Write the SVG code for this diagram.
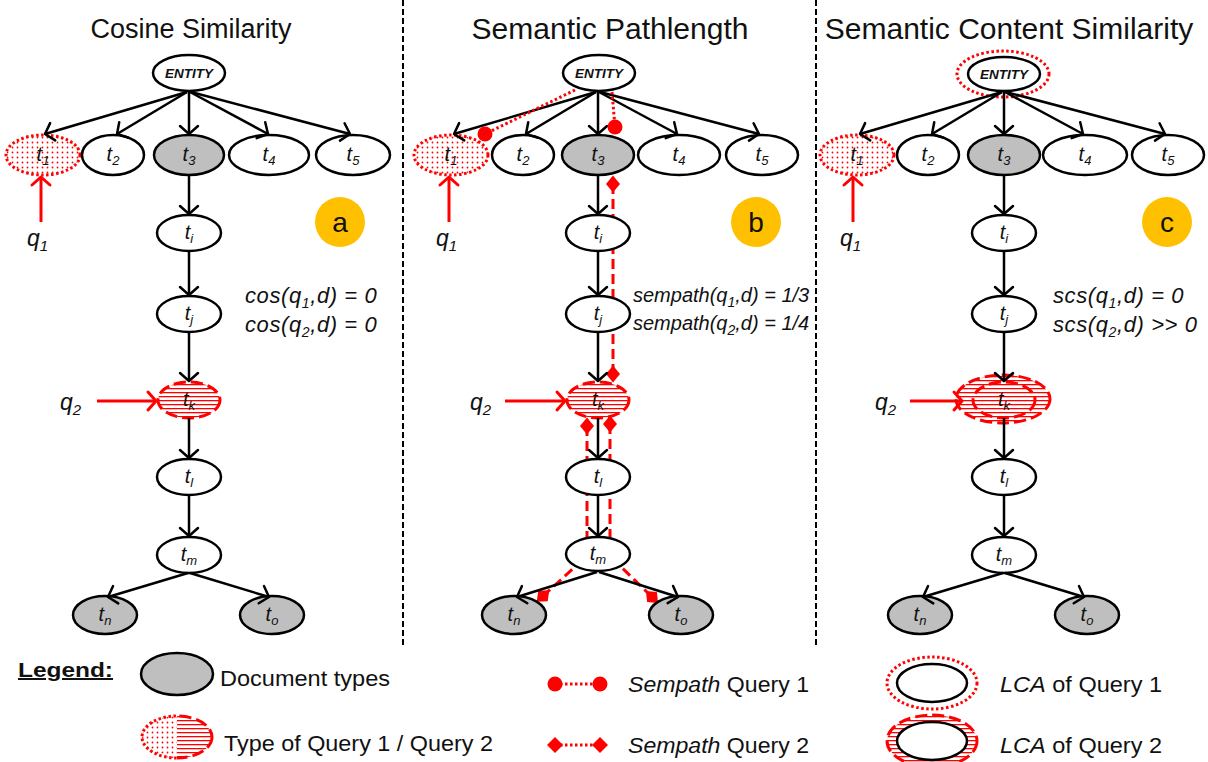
<svg xmlns="http://www.w3.org/2000/svg" width="1208" height="762" viewBox="0 0 1208 762">
<style>
text{font-family:"Liberation Sans",Arial,sans-serif;fill:#111}
.title{font-size:30px;text-anchor:middle}
.node{fill:#fff;stroke:#000;stroke-width:2.5}
.doc{fill:#bfbfbf;stroke:#000;stroke-width:2.5}
.q1t{fill:url(#dots);stroke:#f00;stroke-width:3;stroke-dasharray:2.5 2.5}
.q2t{fill:url(#stripes);stroke:#f00;stroke-width:3;stroke-dasharray:12 5}
.lca1{fill:#fff;stroke:#f00;stroke-width:3;stroke-dasharray:2.5 2.5}
.ring2{fill:none;stroke:#f00;stroke-width:3;stroke-dasharray:12 5}
.lbl{font-size:20px;font-style:italic;text-anchor:middle}
.ent{font-size:13.5px;font-style:italic;font-weight:bold;text-anchor:middle}
.edge{fill:none;stroke:#000;stroke-width:2.5;marker-end:url(#ah)}
.qarrow{fill:none;stroke:#f00;stroke-width:3;marker-end:url(#rah)}
.badge{fill:#ffc000}
.badgeT{font-size:28px;text-anchor:middle}
.f{font-size:22px;font-style:italic;letter-spacing:0.6px}
.fs{font-size:20px;font-style:italic}
.q{font-size:23px;font-style:italic}
.sp1{fill:none;stroke:#f00;stroke-width:3;stroke-dasharray:2.5 2.5;marker-end:url(#circ)}
.sp1b{fill:none;stroke:#f00;stroke-width:3;stroke-dasharray:2.5 2.5;marker-start:url(#circ);marker-end:url(#circ)}
.sp2{fill:none;stroke:#f00;stroke-width:3;stroke-dasharray:10 5;marker-start:url(#dia);marker-end:url(#dia)}
.sp2b{fill:none;stroke:#f00;stroke-width:3;stroke-dasharray:2.5 2.5;marker-start:url(#diaL);marker-end:url(#diaL)}
.sep{stroke:#000;stroke-width:2;stroke-dasharray:6 3}
.leg{font-size:22px}
</style>
<defs>
<pattern id="dots" width="5" height="5" patternUnits="userSpaceOnUse">
<rect width="5" height="5" fill="#fff"/><circle cx="2.5" cy="2.5" r="0.9" fill="#f00"/>
</pattern>
<pattern id="stripes" width="8" height="4" patternUnits="userSpaceOnUse">
<rect width="8" height="4" fill="#fff"/><rect width="8" height="1.3" fill="#f00"/>
</pattern>
<marker id="ah" viewBox="-1 -11 12 22" refX="8" refY="0" markerWidth="12" markerHeight="22" markerUnits="userSpaceOnUse" orient="auto" overflow="visible">
<path d="M0,-9 L8,0 L0,9" fill="none" stroke="#000" stroke-width="2.5" stroke-linecap="round" stroke-linejoin="round"/>
</marker>
<marker id="rah" viewBox="-1 -11 12 22" refX="8" refY="0" markerWidth="12" markerHeight="22" markerUnits="userSpaceOnUse" orient="auto" overflow="visible">
<path d="M0,-9 L8,0 L0,9" fill="none" stroke="#f00" stroke-width="3" stroke-linecap="round" stroke-linejoin="round"/>
</marker>
<marker id="circ" viewBox="-8 -8 16 16" refX="0" refY="0" markerWidth="16" markerHeight="16" markerUnits="userSpaceOnUse" overflow="visible">
<circle r="7.5" fill="#f00"/>
</marker>
<marker id="dia" viewBox="-9 -9 18 18" refX="0" refY="0" markerWidth="18" markerHeight="18" markerUnits="userSpaceOnUse" orient="auto" overflow="visible">
<path d="M-8.5,0 L0,-7 L8.5,0 L0,7 Z" fill="#f00"/>
</marker>
<marker id="diaL" viewBox="-9 -9 18 18" refX="0" refY="0" markerWidth="18" markerHeight="18" markerUnits="userSpaceOnUse" orient="auto" overflow="visible">
<path d="M-8,0 L0,-8 L8,0 L0,8 Z" fill="#f00"/>
</marker>
<clipPath id="cl"><rect x="130" y="705" width="47" height="60"/></clipPath>
<clipPath id="cr"><rect x="177" y="705" width="50" height="60"/></clipPath>
</defs>

<rect width="1208" height="762" fill="#fff"/>

<!-- separators and titles -->
<line class="sep" x1="403" y1="0" x2="403" y2="645"/>
<line class="sep" x1="816" y1="0" x2="816" y2="645"/>
<text class="title" x="191" y="38" style="font-size:27px">Cosine Similarity</text>
<text class="title" x="610" y="39">Semantic Pathlength</text>
<text class="title" x="1009" y="39">Semantic Content Similarity</text>

<!-- Panel B sempath query 2 paths (behind nodes) -->
<g id="sempath-q2">
<path class="sp2" d="M613,184 L613,374"/>
<path class="sp2" d="M587,426 L587,556 L543,596"/>
<path class="sp2" d="M610,424 L610,556 L652,597"/>
</g>

<!-- ================= Panel A ================= -->
<g id="a-ENTITY"><ellipse class="node" cx="189" cy="73" rx="36" ry="18"/><text class="ent" x="189" y="78">ENTITY</text></g>
<g id="a-t1"><ellipse class="q1t" cx="43" cy="155" rx="37" ry="20"/><text class="lbl" x="43" y="161">t<tspan font-size="13" dy="4">1</tspan></text></g>
<g id="a-t2"><ellipse class="node" cx="113" cy="155" rx="31" ry="20"/><text class="lbl" x="113" y="161">t<tspan font-size="13" dy="4">2</tspan></text></g>
<g id="a-t3"><ellipse class="doc" cx="189" cy="155" rx="35" ry="20"/><text class="lbl" x="189" y="161">t<tspan font-size="13" dy="4">3</tspan></text></g>
<g id="a-t4"><ellipse class="node" cx="269" cy="155" rx="40" ry="20"/><text class="lbl" x="269" y="161">t<tspan font-size="13" dy="4">4</tspan></text></g>
<g id="a-t5"><ellipse class="node" cx="353" cy="155" rx="37" ry="20"/><text class="lbl" x="353" y="161">t<tspan font-size="13" dy="4">5</tspan></text></g>
<g id="a-ti"><ellipse class="node" cx="189" cy="233" rx="32" ry="18"/><text class="lbl" x="189" y="239">t<tspan font-size="13" dy="4">i</tspan></text></g>
<g id="a-tj"><ellipse class="node" cx="189" cy="314" rx="32" ry="18"/><text class="lbl" x="189" y="320">t<tspan font-size="13" dy="4">j</tspan></text></g>
<g id="a-tk"><ellipse class="q2t" cx="189" cy="400" rx="31" ry="18"/><text class="lbl" x="189" y="406">t<tspan font-size="13" dy="4">k</tspan></text></g>
<g id="a-tl"><ellipse class="node" cx="189" cy="477" rx="32" ry="18"/><text class="lbl" x="189" y="483">t<tspan font-size="13" dy="4">l</tspan></text></g>
<g id="a-tm"><ellipse class="node" cx="189" cy="555" rx="32" ry="18"/><text class="lbl" x="189" y="561">t<tspan font-size="13" dy="4">m</tspan></text></g>
<g id="a-tn"><ellipse class="doc" cx="105" cy="615" rx="32" ry="19"/><text class="lbl" x="105" y="621">t<tspan font-size="13" dy="4">n</tspan></text></g>
<g id="a-to"><ellipse class="doc" cx="272" cy="615" rx="32" ry="19"/><text class="lbl" x="272" y="621">t<tspan font-size="13" dy="4">o</tspan></text></g>

<!-- ================= Panel B ================= -->
<g id="b-ENTITY"><ellipse class="node" cx="599" cy="73" rx="36" ry="18"/><text class="ent" x="599" y="78">ENTITY</text></g>
<g id="b-t1"><ellipse class="q1t" cx="451" cy="155" rx="37" ry="20"/><text class="lbl" x="451" y="161">t<tspan font-size="13" dy="4">1</tspan></text></g>
<g id="b-t2"><ellipse class="node" cx="523" cy="155" rx="31" ry="20"/><text class="lbl" x="523" y="161">t<tspan font-size="13" dy="4">2</tspan></text></g>
<g id="b-t3"><ellipse class="doc" cx="598" cy="155" rx="36" ry="20"/><text class="lbl" x="598" y="161">t<tspan font-size="13" dy="4">3</tspan></text></g>
<g id="b-t4"><ellipse class="node" cx="679" cy="155" rx="41" ry="20"/><text class="lbl" x="679" y="161">t<tspan font-size="13" dy="4">4</tspan></text></g>
<g id="b-t5"><ellipse class="node" cx="762" cy="155" rx="36" ry="20"/><text class="lbl" x="762" y="161">t<tspan font-size="13" dy="4">5</tspan></text></g>
<g id="b-ti"><ellipse class="node" cx="598" cy="233" rx="32" ry="18"/><text class="lbl" x="598" y="239">t<tspan font-size="13" dy="4">i</tspan></text></g>
<g id="b-tj"><ellipse class="node" cx="598" cy="314" rx="32" ry="18"/><text class="lbl" x="598" y="320">t<tspan font-size="13" dy="4">j</tspan></text></g>
<g id="b-tk"><ellipse class="q2t" cx="598" cy="400" rx="31" ry="18"/><text class="lbl" x="598" y="406">t<tspan font-size="13" dy="4">k</tspan></text></g>
<g id="b-tl"><ellipse class="node" cx="598" cy="477" rx="32" ry="18"/><text class="lbl" x="598" y="483">t<tspan font-size="13" dy="4">l</tspan></text></g>
<g id="b-tm"><ellipse class="node" cx="598" cy="554" rx="32" ry="17"/><text class="lbl" x="598" y="560">t<tspan font-size="13" dy="4">m</tspan></text></g>
<g id="b-tn"><ellipse class="doc" cx="514" cy="615" rx="32" ry="19"/><text class="lbl" x="514" y="621">t<tspan font-size="13" dy="4">n</tspan></text></g>
<g id="b-to"><ellipse class="doc" cx="681" cy="615" rx="32" ry="19"/><text class="lbl" x="681" y="621">t<tspan font-size="13" dy="4">o</tspan></text></g>

<!-- ================= Panel C ================= -->
<g id="c-ENTITY"><ellipse class="lca1" cx="1003" cy="74" rx="46" ry="23"/><ellipse class="node" cx="1004" cy="74" rx="36" ry="17"/><text class="ent" x="1004" y="79">ENTITY</text></g>
<g id="c-t1"><ellipse class="q1t" cx="857" cy="155" rx="37" ry="20"/><text class="lbl" x="857" y="161">t<tspan font-size="13" dy="4">1</tspan></text></g>
<g id="c-t2"><ellipse class="node" cx="928" cy="155" rx="31" ry="20"/><text class="lbl" x="928" y="161">t<tspan font-size="13" dy="4">2</tspan></text></g>
<g id="c-t3"><ellipse class="doc" cx="1004" cy="155" rx="36" ry="20"/><text class="lbl" x="1004" y="161">t<tspan font-size="13" dy="4">3</tspan></text></g>
<g id="c-t4"><ellipse class="node" cx="1085" cy="155" rx="42" ry="20"/><text class="lbl" x="1085" y="161">t<tspan font-size="13" dy="4">4</tspan></text></g>
<g id="c-t5"><ellipse class="node" cx="1168" cy="155" rx="36" ry="20"/><text class="lbl" x="1168" y="161">t<tspan font-size="13" dy="4">5</tspan></text></g>
<g id="c-ti"><ellipse class="node" cx="1004" cy="233" rx="32" ry="18"/><text class="lbl" x="1004" y="239">t<tspan font-size="13" dy="4">i</tspan></text></g>
<g id="c-tj"><ellipse class="node" cx="1004" cy="314" rx="32" ry="18"/><text class="lbl" x="1004" y="320">t<tspan font-size="13" dy="4">j</tspan></text></g>
<g id="c-tk"><ellipse class="q2t" cx="1003" cy="399" rx="47" ry="24"/><ellipse class="ring2" cx="1004" cy="400" rx="31" ry="18"/><text class="lbl" x="1004" y="406">t<tspan font-size="13" dy="4">k</tspan></text></g>
<g id="c-tl"><ellipse class="node" cx="1004" cy="477" rx="32" ry="18"/><text class="lbl" x="1004" y="483">t<tspan font-size="13" dy="4">l</tspan></text></g>
<g id="c-tm"><ellipse class="node" cx="1004" cy="555" rx="32" ry="18"/><text class="lbl" x="1004" y="561">t<tspan font-size="13" dy="4">m</tspan></text></g>
<g id="c-tn"><ellipse class="doc" cx="920" cy="615" rx="32" ry="19"/><text class="lbl" x="920" y="621">t<tspan font-size="13" dy="4">n</tspan></text></g>
<g id="c-to"><ellipse class="doc" cx="1087" cy="615" rx="32" ry="19"/><text class="lbl" x="1087" y="621">t<tspan font-size="13" dy="4">o</tspan></text></g>

<!-- connectors -->
<g id="connectors">
<path class="edge" d="M187,92 L45,134"/>
<path class="edge" d="M187,92 L117,134"/>
<path class="edge" d="M189,91 L189,134"/>
<path class="edge" d="M190,92 L268,134"/>
<path class="edge" d="M191,92 L350,134"/>
<path class="edge" d="M189,175 L189,214"/>
<path class="edge" d="M189,251 L189,295"/>
<path class="edge" d="M189,332 L189,381"/>
<path class="edge" d="M189,418 L189,458"/>
<path class="edge" d="M189,495 L189,536"/>
<path class="edge" d="M188,573 L108,597"/>
<path class="edge" d="M190,573 L269,597"/>

<path class="edge" d="M596,92 L454,134"/>
<path class="edge" d="M596,92 L526,134"/>
<path class="edge" d="M598,91 L598,134"/>
<path class="edge" d="M599,92 L677,134"/>
<path class="edge" d="M600,92 L759,134"/>
<path class="edge" d="M598,175 L598,214"/>
<path class="edge" d="M598,251 L598,295"/>
<path class="edge" d="M598,332 L598,381"/>
<path class="edge" d="M598,418 L598,458"/>
<path class="edge" d="M598,495 L598,536"/>
<path class="edge" d="M597,572 L517,597"/>
<path class="edge" d="M599,572 L678,597"/>

<path class="edge" d="M1002,92 L860,134"/>
<path class="edge" d="M1002,92 L932,134"/>
<path class="edge" d="M1004,91 L1004,134"/>
<path class="edge" d="M1005,92 L1083,134"/>
<path class="edge" d="M1006,92 L1165,134"/>
<path class="edge" d="M1004,175 L1004,214"/>
<path class="edge" d="M1004,251 L1004,295"/>
<path class="edge" d="M1004,332 L1004,381"/>
<path class="edge" d="M1004,418 L1004,458"/>
<path class="edge" d="M1004,495 L1004,536"/>
<path class="edge" d="M1003,573 L923,597"/>
<path class="edge" d="M1005,573 L1084,597"/>

<!-- query arrows -->
<path class="qarrow" d="M41,222 L41,177"/>
<path class="qarrow" d="M97,401 L156,401"/>
<path class="qarrow" d="M449,222 L449,177"/>
<path class="qarrow" d="M505,401 L565,401"/>
<path class="qarrow" d="M853,222 L853,177"/>
<path class="qarrow" d="M910,401 L962,401"/>

<!-- sempath query 1 -->
<path class="sp1" d="M575,90 L485,134"/>
<path class="sp1" d="M612,92 L615,127"/>
</g>

<!-- query labels -->
<text class="q" x="27" y="246">q<tspan font-size="15" dy="5">1</tspan></text>
<text class="q" x="60" y="410">q<tspan font-size="15" dy="5">2</tspan></text>
<text class="q" x="436" y="246">q<tspan font-size="15" dy="5">1</tspan></text>
<text class="q" x="470" y="410">q<tspan font-size="15" dy="5">2</tspan></text>
<text class="q" x="840" y="246">q<tspan font-size="15" dy="5">1</tspan></text>
<text class="q" x="875" y="410">q<tspan font-size="15" dy="5">2</tspan></text>

<!-- badges -->
<g id="badge-a"><circle class="badge" cx="340" cy="222" r="25"/><text class="badgeT" x="340" y="232">a</text></g>
<g id="badge-b"><circle class="badge" cx="756" cy="222" r="25"/><text class="badgeT" x="756" y="232">b</text></g>
<g id="badge-c"><circle class="badge" cx="1167" cy="222" r="25"/><text class="badgeT" x="1167" y="232">c</text></g>

<!-- formulas -->
<text class="f" x="245" y="303">cos(q<tspan font-size="14" dy="5">1</tspan><tspan dy="-5">,d) = 0</tspan></text>
<text class="f" x="245" y="332">cos(q<tspan font-size="14" dy="5">2</tspan><tspan dy="-5">,d) = 0</tspan></text>
<text class="fs" x="633" y="302">sempath(q<tspan font-size="14" dy="5">1</tspan><tspan dy="-5">,d) = 1/3</tspan></text>
<text class="fs" x="633" y="330">sempath(q<tspan font-size="14" dy="5">2</tspan><tspan dy="-5">,d) = 1/4</tspan></text>
<text class="f" x="1053" y="303">scs(q<tspan font-size="14" dy="5">1</tspan><tspan dy="-5">,d) = 0</tspan></text>
<text class="f" x="1053" y="332">scs(q<tspan font-size="14" dy="5">2</tspan><tspan dy="-5">,d) &gt;&gt; 0</tspan></text>

<!-- legend -->
<g id="legend">
<text x="18" y="677" font-size="20" font-weight="bold" text-decoration="underline" textLength="95" lengthAdjust="spacingAndGlyphs">Legend:</text>
<ellipse class="doc" cx="177" cy="674" rx="36" ry="21"/>
<text class="leg" x="220" y="686" textLength="170" lengthAdjust="spacingAndGlyphs">Document types</text>
<ellipse class="q1t" cx="177" cy="737" rx="35" ry="21" clip-path="url(#cl)"/>
<ellipse class="q2t" cx="177" cy="737" rx="35" ry="21" clip-path="url(#cr)"/>
<text class="leg" x="224" y="751" textLength="269" lengthAdjust="spacingAndGlyphs">Type of Query 1 / Query 2</text>
<path class="sp1b" d="M555,684 L600,684"/>
<text class="leg" x="628" y="692" textLength="181" lengthAdjust="spacingAndGlyphs"><tspan font-style="italic">Sempath</tspan> Query 1</text>
<path class="sp2b" d="M555,745 L600,745"/>
<text class="leg" x="628" y="753" textLength="181" lengthAdjust="spacingAndGlyphs"><tspan font-style="italic">Sempath</tspan> Query 2</text>
<ellipse class="lca1" cx="932" cy="683" rx="45" ry="26"/>
<ellipse class="node" cx="932" cy="683" rx="35" ry="19"/>
<text class="leg" x="1000" y="692" textLength="162" lengthAdjust="spacingAndGlyphs"><tspan font-style="italic">LCA</tspan> of Query 1</text>
<ellipse class="q2t" cx="932" cy="741" rx="45" ry="26"/>
<ellipse class="node" cx="932" cy="741" rx="35" ry="19"/>
<text class="leg" x="1000" y="753" textLength="162" lengthAdjust="spacingAndGlyphs"><tspan font-style="italic">LCA</tspan> of Query 2</text>
</g>
</svg>
